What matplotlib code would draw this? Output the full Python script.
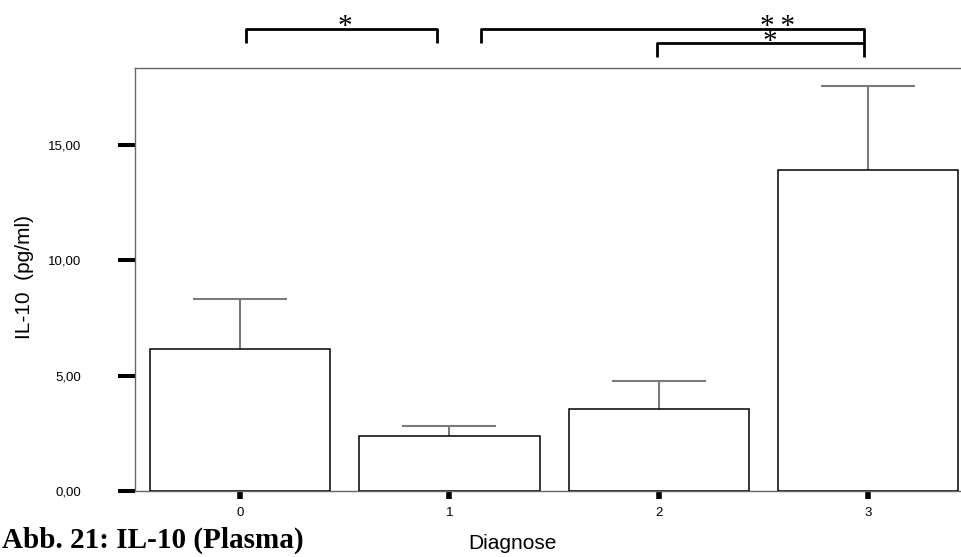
import matplotlib.pyplot as plt
from matplotlib.ticker import FuncFormatter

# Werte
diagnose = [0, 1, 2, 3]
mittelwert = [6.17, 2.38, 3.55, 13.91]
obere_grenze = [8.34, 2.83, 4.78, 17.57]
y_ticks = [0, 5, 10, 15]

# Signifikanz-Klammern: (links, rechts, hoehe, beinende)
klammern = [
    (0.03, 0.94, 20.03, 19.42),
    (1.15, 2.98, 20.03, 19.42),
    (1.99, 2.98, 19.42, 18.81),
]
# Sterne: (text, x, y)
sterne = [
    ("*", 0.50, 20.1),
    ("*\u2009*", 2.565, 20.1),
    ("*", 2.53, 19.45),
]

plt.rcParams['font.family'] = ['Liberation Sans', 'DejaVu Sans']

fig = plt.figure(figsize=(9.62, 5.57), dpi=100)
ax = fig.add_axes([0.1403, 0.1185, 0.8607, 0.7594])

fehler = [[0] * len(mittelwert), [o - m for o, m in zip(obere_grenze, mittelwert)]]
ax.bar(diagnose, mittelwert, width=0.86, color='white', edgecolor='black',
       linewidth=1.1, zorder=3)
_, caps, _ = ax.errorbar(diagnose, mittelwert, yerr=fehler, fmt='none', ecolor='#7a7a7a',
                         elinewidth=1.5, capsize=33.5, capthick=1.5, zorder=2)
# untere Kappe (am Mittelwert) ausblenden
caps[0].set_visible(False)

ax.set_xlim(-0.502, 3.452)
ax.set_ylim(0, 18.34)
ax.set_xticks(diagnose)
ax.set_yticks(y_ticks)
ax.yaxis.set_major_formatter(FuncFormatter(lambda v, p: f"{v:.2f}".replace('.', ',')))

for s in ['left', 'top', 'bottom']:
    ax.spines[s].set_color('#666666')
    ax.spines[s].set_linewidth(1.0)
ax.spines['right'].set_visible(False)

ax.tick_params(axis='y', length=12.2, width=2.9, color='black', pad=26.5, labelsize=9.5)
ax.tick_params(axis='x', length=5.4, width=4.0, color='black', pad=6, labelsize=9.5)

ax.set_ylabel('IL-10  (pg/ml)', fontsize=15, va='center')
ax.yaxis.set_label_coords(-0.133, 0.506)
ax.set_xlabel('Diagnose', fontsize=15, va='center')
ax.xaxis.set_label_coords(0.456, -0.123)

# Klammern oberhalb der Achse
for links, rechts, hoehe, bein in klammern:
    ax.plot([links, links, rechts, rechts], [bein, hoehe, hoehe, bein],
            color='black', linewidth=2, clip_on=False, solid_capstyle='butt')
for text, sx, sy in sterne:
    ax.text(sx, sy, text, ha='center', va='center', fontsize=21,
            family='Liberation Serif', clip_on=False)

fig.text(0.002, 1 - 540 / 557, 'Abb. 21: IL-10 (Plasma)', ha='left', va='center',
         fontsize=21, fontweight='bold', family='Liberation Serif')

fig.savefig('out.png', dpi=100)
